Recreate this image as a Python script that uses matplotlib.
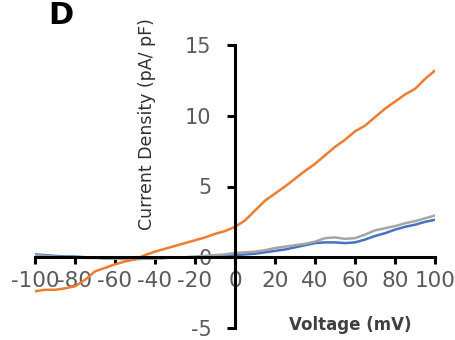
import matplotlib
matplotlib.use("Agg")
import matplotlib.pyplot as plt

voltage = [-100, -95, -90, -85, -80, -75, -70, -65, -60, -55, -50, -45, -40, -35, -30,
           -25, -20, -15, -10, -5, 0, 5, 10, 15, 20, 25, 30, 35, 40, 45, 50, 55, 60,
           65, 70, 75, 80, 85, 90, 95, 100]

orange_current = [-2.4, -2.3, -2.3, -2.2, -2.05, -1.6, -1.0, -0.75, -0.5, -0.3, -0.15,
                  0.15, 0.4, 0.6, 0.8, 1.0, 1.2, 1.4, 1.65, 1.85, 2.15, 2.6, 3.3, 4.0,
                  4.5, 5.0, 5.55, 6.1, 6.6, 7.2, 7.8, 8.3, 8.9, 9.3, 9.9, 10.5, 11.0,
                  11.5, 11.9, 12.6, 13.2]

gray_current = [0.15, 0.1, 0.05, 0.0, 0.0, -0.05, -0.05, -0.1, -0.1, -0.15, -0.15, -0.1,
                -0.1, -0.05, 0.0, 0.0, 0.05, 0.1, 0.15, 0.2, 0.3, 0.35, 0.4, 0.5, 0.65,
                0.75, 0.85, 0.95, 1.1, 1.35, 1.4, 1.3, 1.35, 1.6, 1.9, 2.05, 2.2, 2.4,
                2.55, 2.75, 2.95]

blue_current = [0.2, 0.15, 0.1, 0.05, 0.05, 0.0, 0.0, -0.05, -0.1, -0.1, -0.1, -0.1,
                -0.05, -0.05, 0.0, 0.0, 0.0, 0.05, 0.05, 0.1, 0.15, 0.2, 0.25, 0.35, 0.45,
                0.55, 0.7, 0.85, 1.0, 1.05, 1.05, 1.0, 1.05, 1.25, 1.5, 1.7, 1.95, 2.15,
                2.3, 2.5, 2.65]

x_ticks = [-100, -80, -60, -40, -20, 0, 20, 40, 60, 80, 100]
y_ticks = [-5, 0, 5, 10, 15]

W, H = 456, 340
fig = plt.figure(figsize=(W / 100, H / 100), dpi=100)
ax = fig.add_axes([35 / W, (H - 328) / H, 400 / W, 283 / H])

ax.plot(voltage, blue_current, color="#4472C4", lw=1.8, zorder=2)
ax.plot(voltage, gray_current, color="#A5A5A5", lw=1.8, zorder=3)
ax.plot(voltage, orange_current, color="#ED7D31", lw=1.8, zorder=4)

ax.set_xlim(-100, 100)
ax.set_ylim(-5, 15)
ax.spines["left"].set_position(("data", 0))
ax.spines["bottom"].set_position(("data", 0))
ax.spines["top"].set_visible(False)
ax.spines["right"].set_visible(False)
for s in ("left", "bottom"):
    ax.spines[s].set_linewidth(2.2)
    ax.spines[s].set_color("black")
    ax.spines[s].set_zorder(5)

ax.set_xticks(x_ticks)
ax.set_yticks(y_ticks)
ax.set_xticklabels([str(v) for v in x_ticks])
ax.set_yticklabels([str(v) for v in y_ticks])
ax.tick_params(axis="x", direction="out", length=5, width=2.2, pad=5,
               labelsize=15.5, labelcolor="#5a5a5a", color="black")
ax.tick_params(axis="y", direction="out", length=6, width=2.2, pad=11,
               labelsize=15, labelcolor="#5a5a5a", color="black")
ax.patch.set_alpha(0)

fig.text(147 / W, 1 - 124 / H, "Current Density (pA/ pF)", rotation=90,
         ha="center", va="center", fontsize=12.5, color="#303030")
fig.text(350 / W, 1 - 325 / H, "Voltage (mV)", ha="center", va="center",
         fontsize=12, fontweight="bold", color="#404040")
fig.text(61 / W, 1 - 16 / H, "D", ha="center", va="center",
         fontsize=22, fontweight="bold", color="black")

fig.savefig("out.png", dpi=100)
